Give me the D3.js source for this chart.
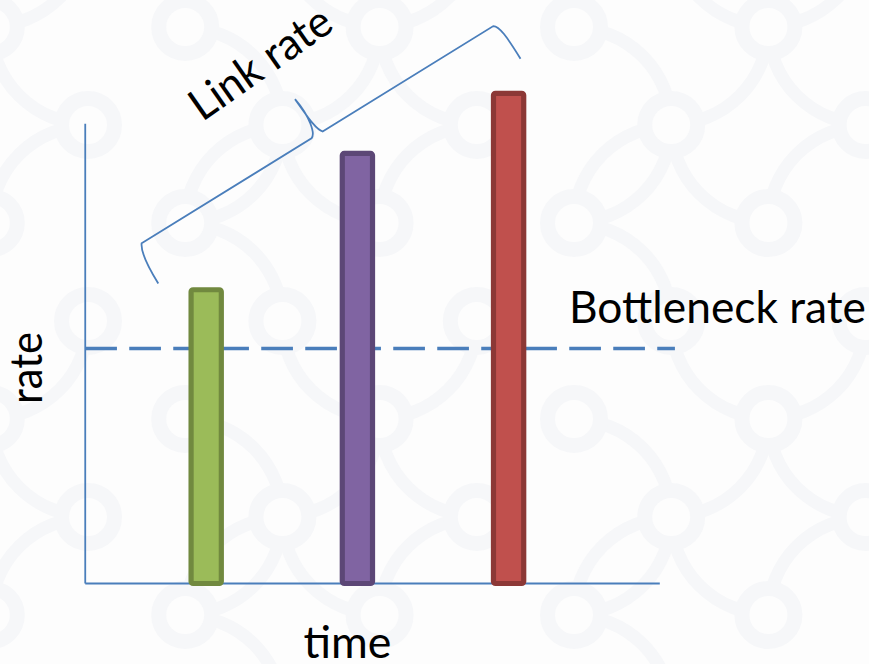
<!DOCTYPE html>
<html>
<head>
<meta charset="utf-8">
<script src="https://cdn.jsdelivr.net/npm/d3@7"></script>
<style>
  html, body { margin: 0; padding: 0; background: #fdfdfd; }
  svg { display: block; }
</style>
</head>
<body>
<svg id="chart" width="869" height="664"></svg>
<script>
// ---- data ----
const times = [1, 2, 3];                       // sample instants
const linkRates = [6.25, 9.15, 10.43];         // link rate at each instant
const barFills = ["#9bbb59", "#8064a2", "#c0504d"];
const barStrokes = ["#71893f", "#5c4776", "#8c3836"];
const bottleneckRate = 5;
const timeAxisExtent = [0.2, 4.0];
const rateAxisExtent = [0, 9.78];
const bottleneckExtent = [0.2, 4.1];
const braceStart = [0.573, 7.24];              // [time, rate] of the brace's left corner
const braceEnd = [2.899, 11.86];               // [time, rate] of the brace's right corner
const xLabel = "time";
const yLabel = "rate";
const bottleneckLabel = "Bottleneck rate";
const linkLabel = "Link rate";

// ---- setup ----
const W = 869, H = 664;
const svg = d3.select("#chart");
const axisBlue = "#4a7ebb";
const bg = "#fdfdfd";
const decoInk = "#f6f7f9";

const x = d3.scaleLinear().domain([0, 4]).range([55, 659.8]);
const y = d3.scaleLinear().domain([0, 10]).range([583.5, 113.5]);

svg.append("rect").attr("width", W).attr("height", H).attr("fill", bg);

// ---- faint ring-and-arc backdrop ----
const deco = svg.append("g");
const sx = 97.2, sy = 98, ox = 574, oy = 27, R = 97.2;
const quadrantRule = {
  "0,1": ["UR", "LR"], "0,3": ["UR"],
  "2,1": ["LL"], "2,3": ["LL", "LR"],
  "1,0": ["LR"], "1,2": ["UL"],
  "3,0": ["LL"], "3,2": ["UL"]
};
const mod = (a, n) => ((a % n) + n) % n;
function quadPath(cx, cy, q) {
  const t = [cx, cy - R], r = [cx + R, cy], b = [cx, cy + R], l = [cx - R, cy];
  const seg = { UR: [t, r], LR: [r, b], LL: [b, l], UL: [l, t] }[q];
  return `M${seg[0][0]},${seg[0][1]} A${R},${R} 0 0 1 ${seg[1][0]},${seg[1][1]}`;
}
const rings = [];
const arcs = [];
for (let j = -2; j <= 8; j++) {
  for (let i = -7; i <= 4; i++) {
    const cx = ox + i * sx, cy = oy + j * sy;
    if (mod(i + j, 2) === 0) rings.push([cx, cy]);
    else (quadrantRule[`${mod(i, 4)},${mod(j, 4)}`] || []).forEach(q => arcs.push(quadPath(cx, cy, q)));
  }
}
deco.selectAll("path").data(arcs).join("path")
  .attr("d", d => d).attr("fill", "none").attr("stroke", decoInk).attr("stroke-width", 13);
deco.selectAll("circle").data(rings).join("circle")
  .attr("cx", d => d[0]).attr("cy", d => d[1]).attr("r", 26.5)
  .attr("fill", bg).attr("stroke", decoInk).attr("stroke-width", 15);

// ---- axes ----
const axes = svg.append("g").attr("stroke", axisBlue).attr("stroke-width", 1.8).attr("fill", "none");
axes.append("line")
  .attr("x1", x(timeAxisExtent[0])).attr("x2", x(timeAxisExtent[0]))
  .attr("y1", y(rateAxisExtent[0])).attr("y2", y(rateAxisExtent[1]));
axes.append("line")
  .attr("x1", x(timeAxisExtent[0])).attr("x2", x(timeAxisExtent[1]))
  .attr("y1", y(0)).attr("y2", y(0));

// ---- bottleneck (dashed) ----
svg.append("line")
  .attr("x1", x(bottleneckExtent[0])).attr("x2", x(bottleneckExtent[1]))
  .attr("y1", y(bottleneckRate)).attr("y2", y(bottleneckRate))
  .attr("stroke", axisBlue).attr("stroke-width", 3.5)
  .attr("stroke-dasharray", "31.7,12.3");

// ---- bars ----
const bw = x(0.2) - x(0);
svg.append("g").selectAll("rect").data(times).join("rect")
  .attr("x", (d) => x(d) - bw / 2)
  .attr("y", (d, i) => y(linkRates[i]))
  .attr("width", bw)
  .attr("height", (d, i) => y(0) - y(linkRates[i]))
  .attr("rx", 2)
  .attr("fill", (d, i) => barFills[i])
  .attr("stroke", (d, i) => barStrokes[i])
  .attr("stroke-width", 5.2);

// ---- brace over the link rates ----
const p0 = [x(braceStart[0]), y(braceStart[1])];
const p1 = [x(braceEnd[0]), y(braceEnd[1])];
const L = Math.hypot(p1[0] - p0[0], p1[1] - p0[1]);
const ang = Math.atan2(p1[1] - p0[1], p1[0] - p0[0]) * 180 / Math.PI;
const m = L / 2;
const braceD = [
  "M-7,43 C-7,20 -4,5 0,0",
  `L${m - 7},0`,
  `C${m - 1},-2 ${m + 3},-20 ${m - 0.5},-42`,
  `C${m + 1},-22 ${m + 1},-6 ${m + 6},0`,
  `L${L},0`,
  `C${L + 5},3 ${L + 6},16 ${L + 6},42`
].join(" ");
svg.append("path")
  .attr("transform", `translate(${p0[0]},${p0[1]}) rotate(${ang})`)
  .attr("d", braceD)
  .attr("fill", "none").attr("stroke", axisBlue).attr("stroke-width", 1.8);

// ---- text ----
const font = "Lato, 'Open Sans', sans-serif";
const txt = svg.append("g").attr("font-family", font).attr("font-size", 44).attr("fill", "#000");

txt.append("text")
  .attr("x", 569).attr("y", 323)
  .attr("textLength", 297).attr("lengthAdjust", "spacingAndGlyphs")
  .text(bottleneckLabel);

txt.append("text")
  .attr("x", 347.5).attr("y", 658).attr("text-anchor", "middle")
  .attr("textLength", 88).attr("lengthAdjust", "spacingAndGlyphs")
  .text(xLabel);

txt.append("text")
  .attr("transform", "translate(41.5,368) rotate(-90)")
  .attr("text-anchor", "middle")
  .attr("textLength", 72).attr("lengthAdjust", "spacingAndGlyphs")
  .text(yLabel);

txt.append("text")
  .attr("transform", "translate(204,121) rotate(-35)")
  .attr("x", -2)
  .attr("textLength", 163).attr("lengthAdjust", "spacingAndGlyphs")
  .text(linkLabel);
</script>
</body>
</html>
